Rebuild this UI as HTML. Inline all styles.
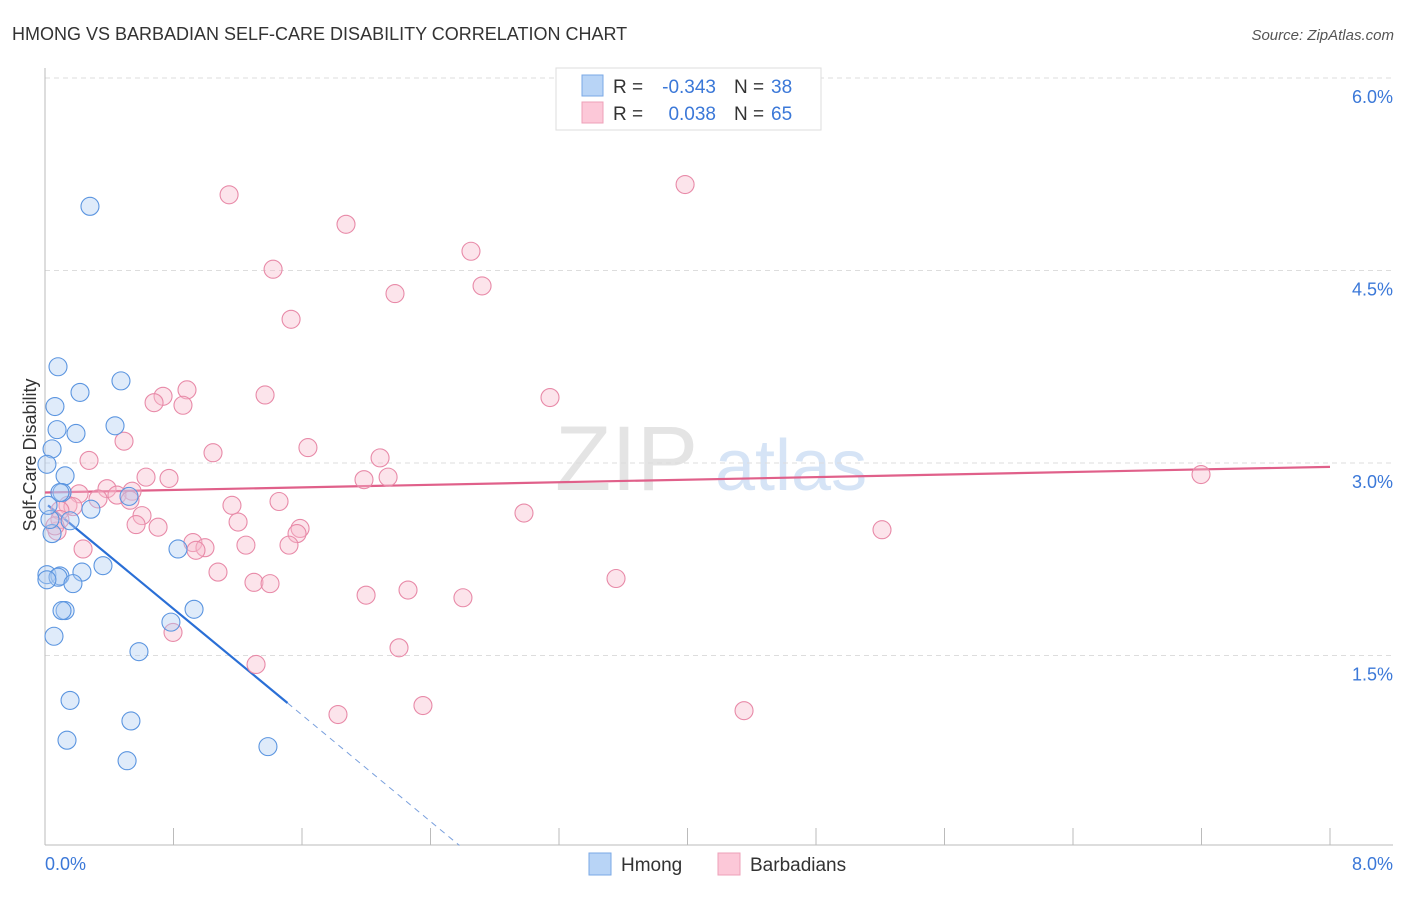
<!DOCTYPE html>
<html><head><meta charset="utf-8"><style>
body{margin:0;background:#fff;font-family:"Liberation Sans",sans-serif}
svg text{font-family:"Liberation Sans",sans-serif}
</style></head><body>
<svg id="chart" width="1406" height="892" viewBox="0 0 1406 892" xmlns="http://www.w3.org/2000/svg">
<text x="12" y="40" font-size="18" fill="#333">HMONG VS BARBADIAN SELF-CARE DISABILITY CORRELATION CHART</text>
<text x="1394" y="40" font-size="15" fill="#555" font-style="italic" text-anchor="end">Source: ZipAtlas.com</text>
<g>
<text x="555" y="490" font-size="92" fill="#e4e4e4" font-family="Liberation Serif, serif">ZIP</text>
<text x="715" y="490" font-size="72" fill="#d6e4f6">atlas</text>
</g>
<g id="grid"></g>
<g id="axes"></g>
<g id="trend"></g>
<g id="points"></g>
<text x="36" y="455" font-size="18" fill="#333" text-anchor="middle" transform="rotate(-90 36 455)">Self-Care Disability</text>
<g>
<rect x="556" y="68" width="265" height="62" fill="#fff" stroke="#ddd"/>
<rect x="582" y="75" width="21" height="21" fill="#b8d4f6" stroke="#7aa8e6"/>
<rect x="582" y="102" width="21" height="21" fill="#fcc8d8" stroke="#eea0b8"/>
<text x="613" y="93" font-size="19" fill="#333">R =</text>
<text x="716" y="93" font-size="19" fill="#3b78d8" text-anchor="end">-0.343</text>
<text x="734" y="93" font-size="19" fill="#333">N =</text>
<text x="771" y="93" font-size="19" fill="#3b78d8">38</text>
<text x="613" y="120" font-size="19" fill="#333">R =</text>
<text x="716" y="120" font-size="19" fill="#3b78d8" text-anchor="end">0.038</text>
<text x="734" y="120" font-size="19" fill="#333">N =</text>
<text x="771" y="120" font-size="19" fill="#3b78d8">65</text>
</g>
<g>
<rect x="589" y="853" width="22" height="22" fill="#b8d4f6" stroke="#7aa8e6"/>
<text x="621" y="871" font-size="19" fill="#333">Hmong</text>
<rect x="718" y="853" width="22" height="22" fill="#fcc8d8" stroke="#eea0b8"/>
<text x="750" y="871" font-size="19" fill="#333">Barbadians</text>
</g>
</svg>
<script>
const hmongX=[0.28,0.081,0.473,0.218,0.062,0.436,0.075,0.193,0.044,0.012,0.125,0.106,0.093,0.523,0.286,0.156,0.044,0.828,0.361,0.230,0.012,0.093,0.081,0.174,0.012,0.125,0.106,0.928,0.784,0.056,0.585,0.156,0.535,0.137,1.388,0.511,0.031,0.019];
const hmongY=[5.00,3.75,3.64,3.55,3.44,3.29,3.26,3.23,3.11,2.99,2.90,2.77,2.77,2.74,2.64,2.55,2.45,2.33,2.20,2.15,2.13,2.12,2.11,2.06,2.09,1.85,1.85,1.86,1.76,1.65,1.53,1.15,0.99,0.84,0.79,0.68,2.56,2.67];
const barbX=[1.146,3.985,1.874,2.652,1.420,2.179,2.721,1.532,3.144,0.884,1.370,0.735,0.679,0.859,0.492,1.637,1.046,0.274,2.086,7.197,0.629,0.772,1.986,2.136,0.386,0.212,0.542,0.448,0.330,0.529,1.164,1.457,0.143,0.174,0.093,0.604,2.982,1.202,0.567,0.704,1.588,0.075,1.569,5.211,0.921,1.251,1.519,0.996,0.237,0.940,1.077,3.555,1.301,1.401,2.260,1.999,2.602,0.797,2.204,1.314,1.824,2.353,4.352,0.093,0.062];
const barbY=[5.09,5.17,4.86,4.65,4.51,4.32,4.38,4.12,3.51,3.57,3.53,3.52,3.47,3.45,3.17,3.12,3.08,3.02,3.04,2.91,2.89,2.88,2.87,2.89,2.80,2.76,2.78,2.75,2.72,2.71,2.67,2.70,2.67,2.66,2.63,2.59,2.61,2.54,2.52,2.50,2.49,2.47,2.45,2.48,2.38,2.36,2.36,2.34,2.33,2.32,2.15,2.10,2.07,2.06,2.01,1.97,1.95,1.68,1.56,1.43,1.04,1.11,1.07,2.56,2.51];
const yTicks=[1.5,3.0,4.5,6.0];
const yTickLabels=["1.5%","3.0%","4.5%","6.0%"];
const xTicks=[0.8,1.6,2.4,3.2,4.0,4.8,5.6,6.4,7.2,8.0];
const hmongTrend=[[0.019,2.67],[1.51,1.13]];
const hmongTrendExt=[[1.51,1.13],[2.58,0.02]];
const barbTrend=[[0,2.77],[8,2.97]];
const X0=45,X1=1330,Y0=848,YPX=192.5/1.5;
const sx=v=>X0+v*(X1-X0)/8;
const sy=v=>Y0-v*YPX;
const NS="http://www.w3.org/2000/svg";
function mk(tag,attrs,parent){const e=document.createElementNS(NS,tag);for(const k in attrs)e.setAttribute(k,attrs[k]);document.getElementById(parent).appendChild(e);return e;}
yTicks.forEach((t,i)=>{
 const l=mk('line',{x1:45,x2:1393,y1:sy(t),y2:sy(t),stroke:'#ddd','stroke-dasharray':'5,4'},'grid');
 
 
 const tx=mk('text',{x:1393,y:sy(t)+25,'font-size':18,fill:'#3b78d8','text-anchor':'end'},'grid');
 tx.textContent=yTickLabels[i];
 
 
});
let a=mk('line',{x1:45,x2:45,y1:68,y2:845,stroke:'#bbb'},'axes');


a=mk('line',{x1:45,x2:1393,y1:845,y2:845,stroke:'#bbb'},'axes');


xTicks.forEach(t=>{
 const l=mk('line',{x1:sx(t),x2:sx(t),y1:828,y2:845,stroke:'#bbb'},'axes');
 
 
});
let t0=mk('text',{x:45,y:870,'font-size':18,fill:'#3b78d8'},'axes');t0.textContent='0.0%';


let t1=mk('text',{x:1393,y:870,'font-size':18,fill:'#3b78d8','text-anchor':'end'},'axes');t1.textContent='8.0%';


function drawPts(xs,ys,fill,stroke,name){
 xs.forEach((x,i)=>{
  const c=mk('circle',{cx:sx(x),cy:sy(ys[i]),r:9,fill:fill,'fill-opacity':0.4,stroke:stroke,'stroke-width':1.1},'points');
  
  
 });
}
drawPts(barbX,barbY,'#f7bccd','#e88aa8','barbadian-point');
drawPts(hmongX,hmongY,'#b0cdf2','#5b95e0','hmong-point');
let tl=mk('line',{x1:sx(barbTrend[0][0]),y1:sy(barbTrend[0][1]),x2:sx(barbTrend[1][0]),y2:sy(barbTrend[1][1]),stroke:'#e0608a','stroke-width':2.2},'trend');


tl=mk('line',{x1:sx(hmongTrend[0][0]),y1:sy(hmongTrend[0][1]),x2:sx(hmongTrend[1][0]),y2:sy(hmongTrend[1][1]),stroke:'#2a6fd6','stroke-width':2.2},'trend');


tl=mk('line',{x1:sx(hmongTrendExt[0][0]),y1:sy(hmongTrendExt[0][1]),x2:sx(hmongTrendExt[1][0]),y2:sy(hmongTrendExt[1][1]),stroke:'#7aa0dd','stroke-width':1,'stroke-dasharray':'6,5'},'trend');


</script>
</body></html>
